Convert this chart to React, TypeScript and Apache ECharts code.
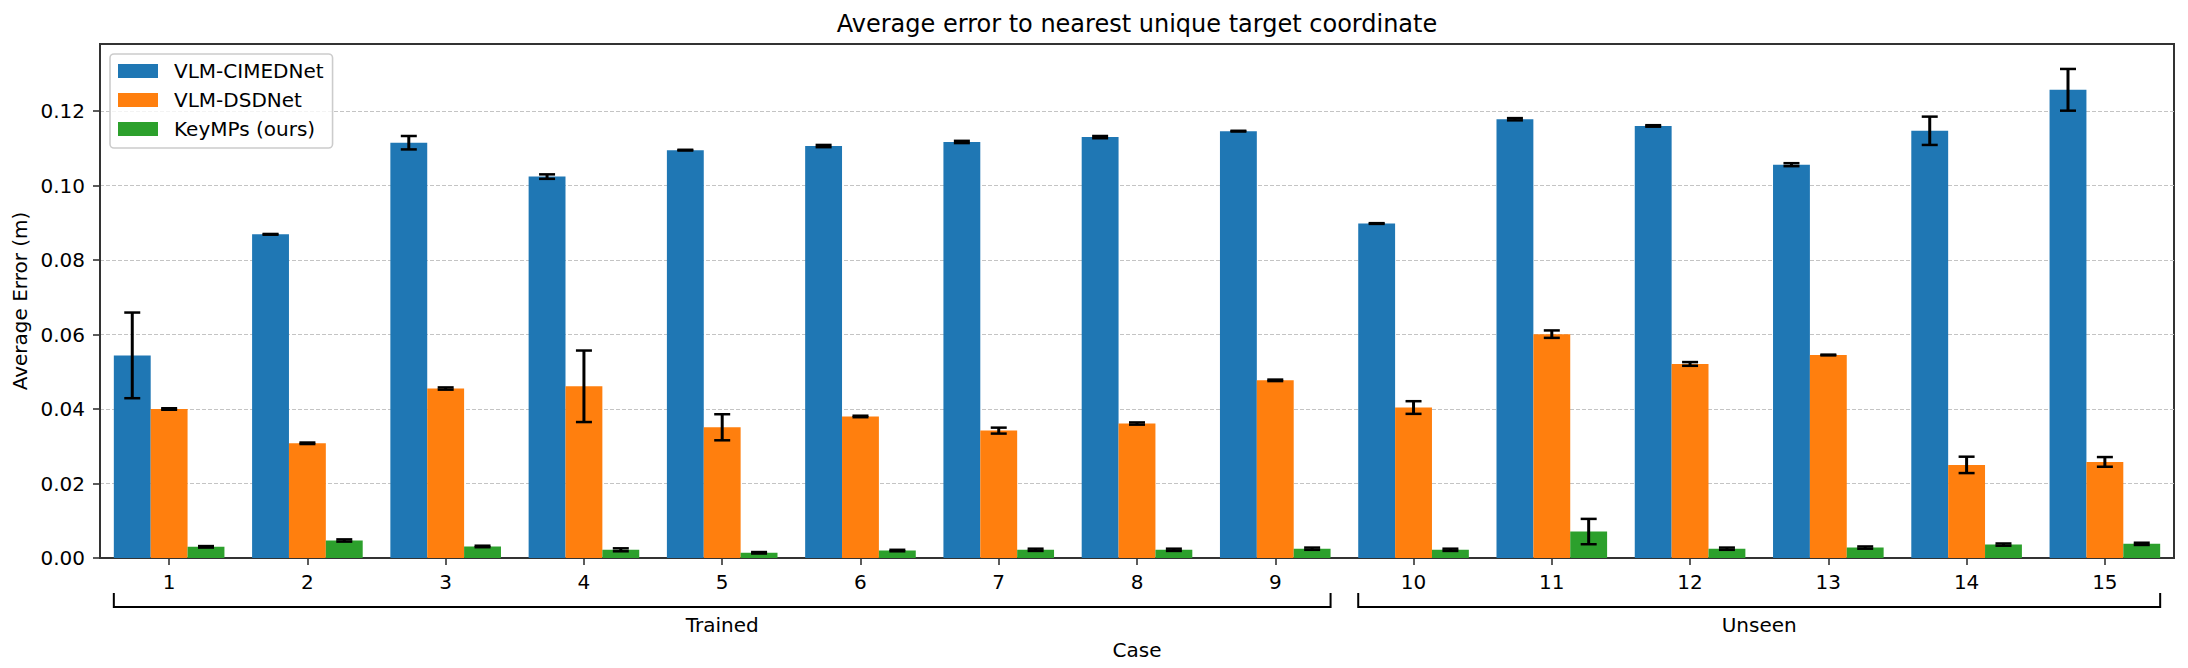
import React, { useEffect, useRef } from "react";
import * as echarts from "echarts";

const CASES = ["1", "2", "3", "4", "5", "6", "7", "8", "9", "10", "11", "12", "13", "14", "15"];
const SERIES_NAMES = ["VLM-CIMEDNet", "VLM-DSDNet", "KeyMPs (ours)"];
const COLORS = ["#1f77b4", "#ff7f0e", "#2ca02c"];

const CIMED_MEAN = [0.0544, 0.0869, 0.1115, 0.1024, 0.1095, 0.1106, 0.1117, 0.113, 0.1146, 0.0898, 0.1178, 0.116, 0.1056, 0.1147, 0.1257];
const CIMED_ERR = [0.0115, 0.0001, 0.0018, 0.0006, 0.0001, 0.0003, 0.0003, 0.0003, 0.0001, 0.0001, 0.0003, 0.0002, 0.0004, 0.0038, 0.0056];

const DSD_MEAN = [0.04, 0.0308, 0.0455, 0.0461, 0.0351, 0.038, 0.0342, 0.0361, 0.0477, 0.0404, 0.0601, 0.0521, 0.0545, 0.025, 0.0258];
const DSD_ERR = [0.0002, 0.0002, 0.0003, 0.0096, 0.0035, 0.0002, 0.0008, 0.0003, 0.0002, 0.0017, 0.001, 0.0005, 0.0001, 0.0022, 0.0013];

const KEY_MEAN = [0.003, 0.0047, 0.0031, 0.0022, 0.0014, 0.002, 0.0022, 0.0022, 0.0025, 0.0022, 0.0071, 0.0025, 0.0028, 0.0036, 0.0038];
const KEY_ERR = [0.0002, 0.0003, 0.0002, 0.0004, 0.0002, 0.0002, 0.0003, 0.0003, 0.0003, 0.0003, 0.0034, 0.0003, 0.0003, 0.0003, 0.0003];

const Y_TICKS = [0, 0.02, 0.04, 0.06, 0.08, 0.1, 0.12];
const Y_MAX = 0.138;

const GROUPS = [
  { name: "Trained", start: 0, end: 8 },
  { name: "Unseen", start: 9, end: 14 },
];

const TITLE = "Average error to nearest unique target coordinate";
const FONT = "DejaVu Sans";

const W = 2188;
const H = 668;
const GRID = { left: 100, right: 14, top: 44, bottom: 110 };

export default function App() {
  const ref = useRef<HTMLDivElement>(null);

  useEffect(() => {
    if (!ref.current) return;
    const chart = echarts.init(ref.current, undefined, { renderer: "svg", width: W, height: H });
    const means = [CIMED_MEAN, DSD_MEAN, KEY_MEAN];
    const errs = [CIMED_ERR, DSD_ERR, KEY_ERR];

    const barSeries = SERIES_NAMES.map((name, k) => ({
      type: "bar",
      name,
      data: means[k],
      itemStyle: { color: COLORS[k] },
      barGap: "0%",
      barCategoryGap: "20%",
      z: 2,
    }));

    const errSeries = SERIES_NAMES.map((name, k) => ({
      type: "custom",
      name: name + " err",
      z: 5,
      silent: true,
      encode: { x: 0, y: 1 },
      data: means[k].map((m, i) => [i, m, errs[k][i]]),
      renderItem: (params: any, api: any) => {
        const xi = api.value(0);
        const v = api.value(1);
        const e = api.value(2);
        const band = api.size([1, 0])[0];
        const bw = (band * 0.8) / 3;
        const offset = (k - 1) * bw;
        const top = api.coord([xi, v + e]);
        const bot = api.coord([xi, v - e]);
        const x = top[0] + offset;
        const cap = 8;
        const st = { stroke: "#000", lineWidth: 3 };
        const cs = { stroke: "#000", lineWidth: 2.5 };
        return {
          type: "group",
          children: [
            { type: "line", shape: { x1: x, y1: top[1], x2: x, y2: bot[1] }, style: st },
            { type: "line", shape: { x1: x - cap, y1: top[1], x2: x + cap, y2: top[1] }, style: cs },
            { type: "line", shape: { x1: x - cap, y1: bot[1], x2: x + cap, y2: bot[1] }, style: cs },
          ],
        };
      },
    }));

    const axisColor = "#333";

    chart.setOption({
      animation: false,
      backgroundColor: "#fff",
      textStyle: { fontFamily: FONT },
      title: {
        text: TITLE,
        left: (GRID.left + (W - GRID.right)) / 2,
        textAlign: "center",
        top: 12,
        padding: 0,
        textStyle: { fontFamily: FONT, fontSize: 24, fontWeight: "normal", color: "#000" },
      },
      legend: {
        data: SERIES_NAMES,
        orient: "vertical",
        left: 110,
        top: 54,
        padding: [7, 9, 9, 8],
        itemWidth: 40,
        itemHeight: 14,
        itemGap: 9,
        icon: "rect",
        backgroundColor: "rgba(255,255,255,0.8)",
        borderColor: "#cccccc",
        borderWidth: 1.6,
        borderRadius: 4,
        textStyle: { fontFamily: FONT, fontSize: 20, color: "#000", lineHeight: 20, padding: [0, 0, 0, 11] },
      },
      grid: {
        left: GRID.left,
        right: GRID.right,
        top: GRID.top,
        bottom: GRID.bottom,
        show: true,
        borderColor: axisColor,
        borderWidth: 2,
        backgroundColor: "transparent",
      },
      xAxis: {
        type: "category",
        data: CASES,
        name: "Case",
        nameLocation: "middle",
        nameGap: 82,
        nameTextStyle: { fontFamily: FONT, fontSize: 20, color: "#000" },
        axisLine: { show: true, lineStyle: { color: axisColor, width: 2 } },
        axisTick: { show: true, alignWithLabel: true, length: 7, lineStyle: { color: axisColor, width: 1.6 } },
        axisLabel: { fontFamily: FONT, fontSize: 20, color: "#000", margin: 14 },
        splitLine: { show: false },
      },
      yAxis: [
        {
          type: "value",
          min: 0,
          max: Y_MAX,
          interval: 0.01,
          name: "Average Error (m)",
          nameLocation: "middle",
          nameGap: 68,
          nameTextStyle: { fontFamily: FONT, fontSize: 20, color: "#000" },
          axisLine: { show: true, lineStyle: { color: axisColor, width: 2 } },
          axisTick: { show: true, length: 7, customValues: Y_TICKS, lineStyle: { color: axisColor, width: 1.6 } },
          axisLabel: {
            fontFamily: FONT,
            fontSize: 20,
            color: "#000",
            margin: 15,
            customValues: Y_TICKS,
            formatter: (v: number) => v.toFixed(2),
          },
          splitLine: { show: true, lineStyle: { color: "#c4c4c4", width: 1.2, type: [4, 2] } },
        },
      ],
      series: [...barSeries, ...errSeries],
    });

    const drawGroups = () => {
      const c0 = chart.convertToPixel({ xAxisIndex: 0 }, 0) as number;
      const c1 = chart.convertToPixel({ xAxisIndex: 0 }, 1) as number;
      const band = c1 - c0;
      const y0 = chart.convertToPixel({ yAxisIndex: 0 }, 0) as number;
      const elements: any[] = [];
      GROUPS.forEach((g) => {
        const l = (chart.convertToPixel({ xAxisIndex: 0 }, g.start) as number) - 0.4 * band;
        const r = (chart.convertToPixel({ xAxisIndex: 0 }, g.end) as number) + 0.4 * band;
        elements.push({
          type: "polyline",
          shape: { points: [[l, y0 + 35], [l, y0 + 49], [r, y0 + 49], [r, y0 + 35]] },
          style: { stroke: "#000", lineWidth: 2, fill: "none" },
          silent: true,
        });
        elements.push({
          type: "text",
          x: (l + r) / 2,
          y: y0 + 67,
          style: {
            text: g.name,
            fontFamily: FONT,
            fontSize: 20,
            fill: "#000",
            align: "center",
            verticalAlign: "middle",
          },
          silent: true,
        });
      });
      chart.setOption({ graphic: elements });
    };
    drawGroups();

    return () => {
      chart.dispose();
    };
  }, []);

  return (
    <div
      ref={ref}
      style={{ position: "absolute", left: 0, top: 0, width: W, height: H, background: "#fff" }}
    />
  );
}
